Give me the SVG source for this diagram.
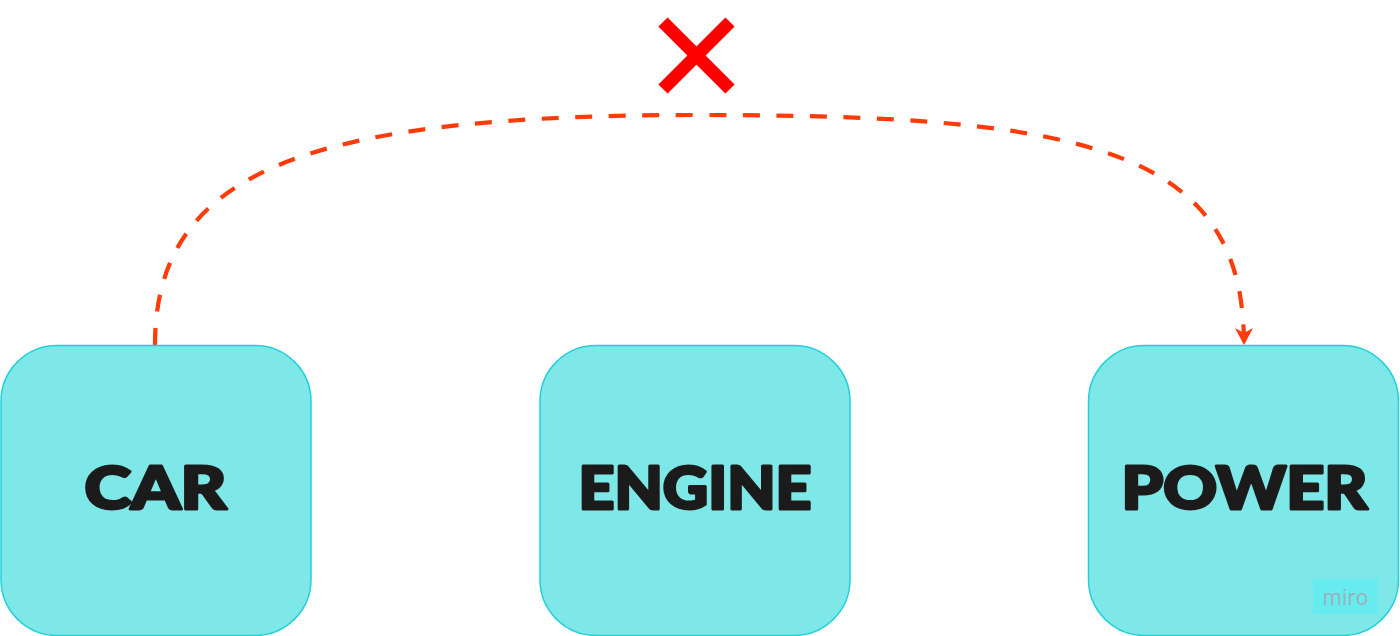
<svg xmlns="http://www.w3.org/2000/svg" width="1400" height="636" viewBox="0 0 1400 636">
<defs>
<style>
.box{fill:#7ee8e8;stroke:#22d0da;stroke-width:1.5}
.lbl{font-family:Lato,"DejaVu Sans",sans-serif;font-weight:900;font-size:59px;fill:#1b1b1b;stroke:#1b1b1b;stroke-width:3;stroke-linejoin:round;text-anchor:middle}
.conn{fill:none;stroke:#ff3b0a;stroke-width:4.2;stroke-dasharray:17 16.5}
</style>
<marker id="arr" markerUnits="userSpaceOnUse" markerWidth="20" markerHeight="20" refX="17" refY="10" orient="auto">
<path d="M0,1 L17,10 L0,19 L5,10 Z" fill="#ff3b0a"/>
</marker>
</defs>
<rect width="1400" height="636" fill="#ffffff"/>
<g id="connectors">
<path class="conn" d="M155,345 C155,165 320,115 700,115 C1090,115 1244,150 1244,345" marker-end="url(#arr)"/>
</g>
<g id="cross">
<line x1="663" y1="22" x2="730" y2="89" stroke="#ff0000" stroke-width="13"/>
<line x1="730" y1="22" x2="663" y2="89" stroke="#ff0000" stroke-width="13"/>
</g>
<g id="car">
<rect class="box" x="1" y="345.5" width="310" height="290" rx="56" ry="56"/>
<text class="lbl" x="155.5" y="508.5" textLength="142" lengthAdjust="spacingAndGlyphs">CAR</text>
</g>
<g id="engine">
<rect class="box" x="540" y="345.5" width="310" height="290" rx="56" ry="56"/>
<text class="lbl" x="695" y="508.5" textLength="233" lengthAdjust="spacingAndGlyphs">ENGINE</text>
</g>
<g id="power">
<rect class="box" x="1088.5" y="345.5" width="310" height="290" rx="56" ry="56"/>
<text class="lbl" x="1244.5" y="508.5" textLength="246" lengthAdjust="spacingAndGlyphs">POWER</text>
</g>
<g id="miro">
<rect x="1313" y="579" width="65" height="35" fill="#66ebee"/>
<text x="1345.5" y="604.5" font-family="'Open Sans',Lato,sans-serif" font-size="21" fill="#9eb0b8" text-anchor="middle">miro</text>
</g>
</svg>
